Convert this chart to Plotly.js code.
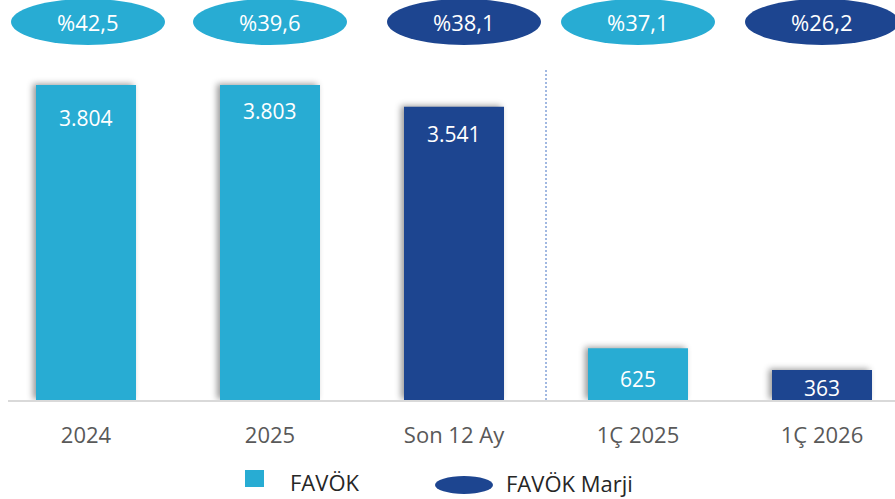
<!DOCTYPE html>
<html>
<head>
<meta charset="utf-8">
<script src="https://cdn.plot.ly/plotly-3.0.1.min.js"></script>
<style>
html,body{margin:0;padding:0;background:#fff;}
#chart{width:895px;height:499px;}
.bars .point path{filter:drop-shadow(-3px -1px 3px rgba(0,0,0,0.40));}
</style>
</head>
<body>
<div id="chart"></div>
<script>
// ---- data ----
var categories = ["2024", "2025", "Son 12 Ay", "1Ç 2025", "1Ç 2026"];
var favok = [3804, 3803, 3541, 625, 363];
var favokLabels = ["3.804", "3.803", "3.541", "625", "363"];
var marj = [42.5, 39.6, 38.1, 37.1, 26.2];
var marjLabels = ["%42,5", "%39,6", "%38,1", "%37,1", "%26,2"];
var legendNames = ["FAVÖK", "FAVÖK Marji"];

// ---- style ----
var LIGHT = "#28ACD3", DARK = "#1D4590";
var barColors = [LIGHT, LIGHT, DARK, LIGHT, DARK];
var labelDropPx = [33, 26, 27, 31, 18];
var ellipseNudgePx = [2, 0, 10, 0, 0];
var FONT = "Open Sans, Noto Sans, sans-serif";

var W = 895, H = 499;
var mL = 8, mR = 0, mT = 0, mB = 99;
var plotW = W - mL - mR, plotH = H - mT - mB;
var catPx = 184, firstPx = 86;
var xr = [(mL - firstPx) / catPx, (W - mR - firstPx) / catPx];
var pxPerUnit = 315 / 3804;
var yTop = plotH / pxPerUnit;
function yFromPx(py) { return (mT + plotH - py) / pxPerUnit; }
function pxX(px) { return (px - mL) / plotW; }
function pxY(py) { return (mT + plotH - py) / plotH; }

var trace = {
  type: "bar",
  x: categories,
  y: favok,
  width: 100 / catPx,
  marker: { color: barColors, line: { width: 0 } },
  hoverinfo: "none",
  cliponaxis: false,
  showlegend: false
};

var shapes = [];
var annotations = [];
var ellRx = 77 / catPx;
for (var i = 0; i < categories.length; i++) {
  var cx = i + ellipseNudgePx[i] / catPx;
  shapes.push({
    type: "circle", xref: "x", yref: "y",
    x0: cx - ellRx, x1: cx + ellRx,
    y0: yFromPx(45), y1: yFromPx(-1),
    fillcolor: barColors[i], line: { width: 0 }, layer: "above"
  });
  annotations.push({
    x: cx, y: yFromPx(22), xref: "x", yref: "y",
    text: marjLabels[i], showarrow: false,
    font: { family: FONT, size: 22, color: "#ffffff" },
    xanchor: "center", yanchor: "middle"
  });
  annotations.push({
    x: i, y: favok[i], xref: "x", yref: "y",
    yshift: -labelDropPx[i],
    text: favokLabels[i], showarrow: false,
    font: { family: FONT, size: 21, color: "#ffffff" },
    xanchor: "center", yanchor: "middle"
  });
}
// separator
shapes.push({
  type: "line", xref: "x", yref: "y",
  x0: 2.5, x1: 2.5, y0: 0, y1: yFromPx(70),
  line: { color: "#4472C4", width: 1, dash: "2px,2px" }
});
// legend
shapes.push({
  type: "rect", xref: "paper", yref: "paper",
  x0: pxX(245), x1: pxX(264), y0: pxY(487), y1: pxY(470),
  fillcolor: LIGHT, line: { width: 0 }
});
shapes.push({
  type: "circle", xref: "paper", yref: "paper",
  x0: pxX(435), x1: pxX(493), y0: pxY(494), y1: pxY(476),
  fillcolor: DARK, line: { width: 0 }
});
annotations.push({
  x: pxX(288), y: pxY(482), xref: "paper", yref: "paper",
  text: legendNames[0], showarrow: false, xanchor: "left", yanchor: "middle",
  font: { family: FONT, size: 22, color: "#262626" }
});
annotations.push({
  x: pxX(504), y: pxY(483), xref: "paper", yref: "paper",
  text: legendNames[1], showarrow: false, xanchor: "left", yanchor: "middle",
  font: { family: FONT, size: 22, color: "#262626" }
});

var layout = {
  width: W, height: H,
  margin: { l: mL, r: mR, t: mT, b: mB, pad: 0 },
  paper_bgcolor: "#ffffff", plot_bgcolor: "#ffffff",
  showlegend: false,
  xaxis: {
    type: "category", range: xr, fixedrange: true,
    showline: true, linecolor: "#D9D9D9", linewidth: 2,
    showgrid: false, zeroline: false, ticks: "",
    tickfont: { family: FONT, size: 22, color: "#595959" },
    ticklabelstandoff: 15
  },
  yaxis: {
    range: [0, yTop], visible: false, fixedrange: true,
    showgrid: false, zeroline: false
  },
  shapes: shapes,
  annotations: annotations
};

Plotly.newPlot("chart", [trace], layout, { displayModeBar: false, staticPlot: true });
</script>
</body>
</html>
